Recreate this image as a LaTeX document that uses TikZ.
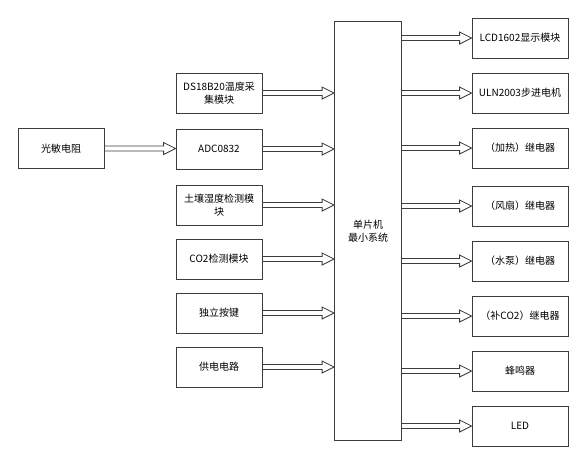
\documentclass[tikz,border=0pt]{standalone}
\usepackage{fontspec}
\setmainfont{Noto Sans CJK SC}
\usetikzlibrary{
		calc,
		positioning
	}
\definecolor{grayscale-300}{HTML}{3c3c3c}
\tikzset{%
		every text node part/.style = {
			align = center
		},
		block/.style = {
			draw = grayscale-300,
			rectangle,
			line width = 0.8pt,
			minimum width = 86pt,
			minimum height = 40pt,
			inner sep = 0pt,
			font = \fontsize{10}{13}\selectfont
		},
		outblock/.style = {
			block,
			minimum width = 96pt
		},
		mcublock/.style = {
			block,
			minimum width = 67pt,
			minimum height = 419pt
		},
		hollowarrow/.style = {%
			draw = grayscale-300,
			line width = 0.8pt,
			to path = {%
				let \p1 = (\tikztostart), \p2 = (\tikztotarget) in
				(\x1, \y1 + 2.5pt) -- (\x2 - 12pt, \y1 + 2.5pt) -- (\x2 - 12pt, \y1 + 6pt) --
				(\x2, \y1) --
				(\x2 - 12pt, \y1 - 6pt) -- (\x2 - 12pt, \y1 - 2.5pt) -- (\x1, \y1 - 2.5pt)
			}
		}
	}
\begin{document}
\begin{tikzpicture}[x = 1pt, y = -1pt]
		\useasboundingbox (0, 0) rectangle (588, 466);
		\node [mcublock, text width = 44pt, align = left] (mcu) at (368, 231) {单片机\\最小系统};
		\node [block] (ldr) at (61, 148.5) {光敏电阻};
		% inputs
		\foreach \name/\ypos/\txt in {%
				ds/93/{DS18B20温度采\\集模块},
				adc/149/ADC0832,
				soil/205/{土壤湿度检测模\\块},
				co2/259/CO2检测模块,
				key/313/独立按键,
				power/367/供电电路%
			}{
			\node [block] (\name) at (219, \ypos) {\txt};
			\draw [hollowarrow] (\name.east) to (\name.east -| mcu.west);
		}
		\draw [hollowarrow] (ldr.east) to (adc.west);
		% outputs
		\foreach \name/\ypos/\txt in {%
				lcd/38/LCD1602显示模块,
				uln/93/ULN2003步进电机,
				heat/148/（加热）继电器,
				fan/206/（风扇）继电器,
				pump/261/（水泵）继电器,
				addco/316/（补CO2）继电器,
				buzz/371/蜂鸣器,
				led/426/LED%
			}{
			\node [outblock] (\name) at (520, \ypos) {\txt};
			\draw [hollowarrow] (\name.west -| mcu.east) to (\name.west);
		}
	\end{tikzpicture}
\end{document}
